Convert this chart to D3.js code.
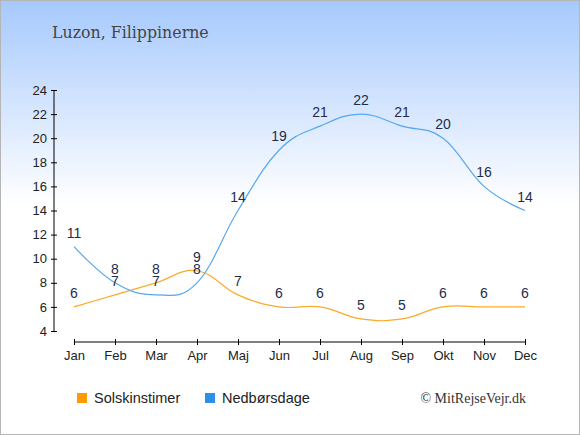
<!DOCTYPE html>
<html>
<head>
<meta charset="utf-8">
<script src="https://cdn.jsdelivr.net/npm/d3@7"></script>
<style>
  body { margin: 0; padding: 0; }
  svg { display: block; }
</style>
</head>
<body>
<div id="chart"></div>
<script>
const months = ["Jan","Feb","Mar","Apr","Maj","Jun","Jul","Aug","Sep","Okt","Nov","Dec"];
const sunHours = [6,7,8,9,7,6,6,5,5,6,6,6];
const rainDays = [11,8,7,8,14,19,21,22,21,20,16,14];
const yTicks = [4,6,8,10,12,14,16,18,20,22,24];

const W = 580, H = 435;

const svg = d3.select("#chart").append("svg").attr("width", W).attr("height", H);

// background gradient
const grad = svg.append("defs").append("linearGradient")
  .attr("id", "bg").attr("x1", 0).attr("y1", 0).attr("x2", 0).attr("y2", 1);
grad.append("stop").attr("offset", "0%").attr("stop-color", "#a6c9fd");
grad.append("stop").attr("offset", "47%").attr("stop-color", "#ffffff");
grad.append("stop").attr("offset", "100%").attr("stop-color", "#ffffff");

svg.append("rect").attr("x", 0.5).attr("y", 0.5).attr("width", W - 1).attr("height", H - 1)
  .attr("fill", "url(#bg)").attr("stroke", "#b5b5b5");

// title
svg.append("text").attr("x", 52).attr("y", 38)
  .text("Luzon, Filippinerne")
  .attr("font-family", "DejaVu Serif").attr("font-size", 15.8).attr("fill", "#444");

const x = d3.scalePoint().domain(months).range([74, 525]);
const y = d3.scaleLinear().domain([4, 24]).range([331, 90]);

// y axis
const yAxis = d3.axisLeft(y).tickValues(yTicks).tickSize(3).tickPadding(5);
const gy = svg.append("g").attr("transform", "translate(54,0)").call(yAxis);
gy.select(".domain").attr("d", `M0,${y(4)}V${y(24)}`).attr("stroke", "#000");
gy.selectAll(".tick line").attr("x1", 3).attr("x2", -3).attr("stroke", "#000");
gy.selectAll(".tick text").attr("font-family", "Liberation Sans, Arial").attr("font-size", 13).attr("fill", "#222").attr("x", -7);

// x axis
const xAxis = d3.axisBottom(x).tickSize(3).tickPadding(6);
const gx = svg.append("g").attr("transform", "translate(0,342)").call(xAxis);
gx.select(".domain").attr("d", `M${x("Jan")},0H${x("Dec")}`).attr("stroke", "#000");
gx.selectAll(".tick line").attr("y1", -3).attr("y2", 3).attr("stroke", "#000");
gx.selectAll(".tick text").attr("font-family", "Liberation Sans, Arial").attr("font-size", 13).attr("fill", "#222");

const line = d3.line()
  .x((d, i) => x(months[i]))
  .y(d => y(d))
  .curve(d3.curveCardinal.tension(-0.2));

svg.append("path").datum(sunHours).attr("d", line)
  .attr("fill", "none").attr("stroke", "#fbaa2a").attr("stroke-width", 1.2);
svg.append("path").datum(rainDays).attr("d", line)
  .attr("fill", "none").attr("stroke", "#56a8ee").attr("stroke-width", 1.2);

// value labels
const labelFont = "Liberation Sans, Arial";
[sunHours, rainDays].forEach(series => {
  svg.append("g").selectAll("text")
    .data(series)
    .enter()
    .append("text")
    .attr("x", (d, i) => x(months[i]))
    .attr("y", d => y(d) - 9)
    .attr("text-anchor", "middle")
    .attr("font-family", labelFont).attr("font-size", 14)
    .attr("fill", "#1e2c4c")
    .text(d => d);
});

// legend
const legend = [
  { name: "Solskinstimer", color: "#ff9a00", x: 77 },
  { name: "Nedbørsdage", color: "#2e8fe6", x: 205 }
];
const lg = svg.append("g");
lg.selectAll("rect").data(legend).enter().append("rect")
  .attr("x", d => d.x).attr("y", 393).attr("width", 10).attr("height", 10)
  .attr("fill", d => d.color);
lg.selectAll("text").data(legend).enter().append("text")
  .attr("x", d => d.x + 17).attr("y", 403)
  .attr("font-family", labelFont).attr("font-size", 14.5).attr("fill", "#222")
  .text(d => d.name);

svg.append("text").attr("x", 526).attr("y", 403).attr("text-anchor", "end")
  .text("© MitRejseVejr.dk")
  .attr("font-family", "Liberation Serif, Times New Roman").attr("font-size", 14).attr("fill", "#333");
</script>
</body>
</html>
